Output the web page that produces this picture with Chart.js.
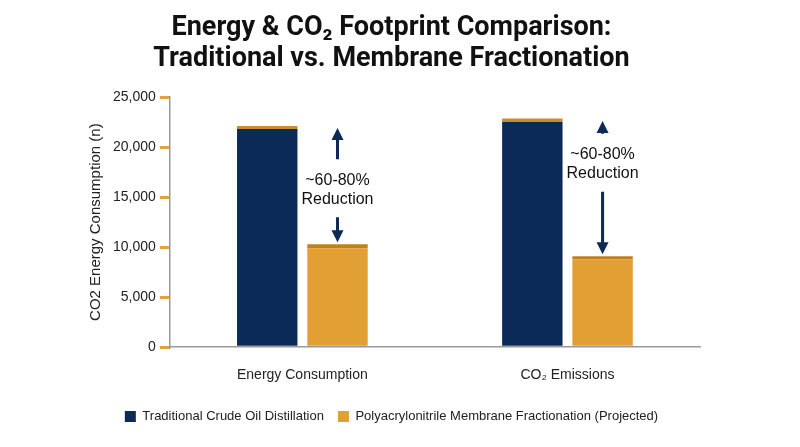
<!DOCTYPE html>
<html><head><meta charset="utf-8">
<script src="https://cdn.jsdelivr.net/npm/chart.js"></script>
<style>body{margin:0;background:#fff}#w{width:800px;height:447px}</style>
</head><body><div id="w"><canvas id="c"></canvas></div>
<script>
const categories = ["Energy Consumption", "CO₂ Emissions"];
const traditionalBody = [21800, 22500];
const traditionalCap = [300, 350];
const membraneBody = [9900, 8800];
const membraneCap = [400, 300];
const arrowTop = [21900, 22600];
const arrowLabel = ["~60-80%", "Reduction"];
const yTicks = [0, 5000, 10000, 15000, 20000, 25000];

const arrows = {
  id: 'arrows',
  afterDatasetsDraw(chart) {
    const ctx = chart.ctx, y = chart.scales.y;
    const meta = chart.getDatasetMeta(2);
    categories.forEach((c, i) => {
      const x = meta.data[i].x;
      const top = y.getPixelForValue(arrowTop[i]);
      const bot = y.getPixelForValue(membraneBody[i] + membraneCap[i]) - 2;
      const mid = (top + bot) / 2 + (i === 0 ? 4 : -24);
      ctx.save();
      ctx.strokeStyle = ctx.fillStyle = '#0d2a57';
      ctx.lineWidth = 3;
      ctx.beginPath();
      ctx.moveTo(x, top + 10); ctx.lineTo(x, mid - 30);
      ctx.moveTo(x, mid + 28); ctx.lineTo(x, bot - 10);
      ctx.stroke();
      ctx.beginPath(); ctx.moveTo(x, top); ctx.lineTo(x - 6, top + 12); ctx.lineTo(x + 6, top + 12); ctx.fill();
      ctx.beginPath(); ctx.moveTo(x, bot); ctx.lineTo(x - 6, bot - 12); ctx.lineTo(x + 6, bot - 12); ctx.fill();
      ctx.fillStyle = '#111';
      ctx.font = '16px "Liberation Sans", Arial';
      ctx.textAlign = 'center'; ctx.textBaseline = 'middle';
      ctx.fillText(arrowLabel[0], x, mid - 9);
      ctx.fillText(arrowLabel[1], x, mid + 10);
      ctx.restore();
    });
  }
};

new Chart(document.getElementById('c'), {
  type: 'bar',
  data: {
    labels: categories,
    datasets: [
      {label: 'Traditional Crude Oil Distillation', data: traditionalBody, backgroundColor: '#0b2a57', stack: 't'},
      {label: 'tcap', data: traditionalCap, backgroundColor: '#c98d2c', stack: 't'},
      {label: 'Polyacrylonitrile Membrane Fractionation (Projected)', data: membraneBody, backgroundColor: '#e29f34', stack: 'm'},
      {label: 'mcap', data: membraneCap, backgroundColor: '#c27f1c', stack: 'm'}
    ]
  },
  options: {
    responsive: true, maintainAspectRatio: false, animation: false,
    layout: {padding: {left: 83, right: 100, top: 5, bottom: 14}},
    datasets: {bar: {categoryPercentage: 0.53, barPercentage: 0.86}},
    plugins: {
      title: {display: true, text: ['Energy & CO₂ Footprint Comparison:', 'Traditional vs. Membrane Fractionation'],
        color: '#111', font: {family: 'Roboto', size: 27, weight: 'bold', lineHeight: 1.15}, padding: {top: 8, bottom: 22}},
      legend: {position: 'bottom', labels: {filter: it => !it.text.endsWith('cap'), boxWidth: 11, boxHeight: 11,
        color: '#222', padding: 14, font: {family: '"Liberation Sans", Arial', size: 13}}},
      tooltip: {enabled: false}
    },
    scales: {
      x: {stacked: true, grid: {display: false}, border: {color: '#999', width: 1.5},
        ticks: {color: '#222', padding: 12, font: {family: '"Liberation Sans", Arial', size: 14}}},
      y: {stacked: true, min: 0, max: 25000, afterBuildTicks: a => { a.ticks = yTicks.map(v => ({value: v})); },
        grid: {drawOnChartArea: false, color: '#e0a23a', lineWidth: 3, tickLength: 10},
        border: {color: '#999', width: 1.5},
        title: {display: true, text: 'CO2 Energy Consumption (n)', color: '#222', font: {family: '"Liberation Sans", Arial', size: 15}},
        ticks: {color: '#222', padding: 4, font: {family: '"Liberation Sans", Arial', size: 14}, callback: v => v.toLocaleString('en-US')}}
    }
  },
  plugins: [arrows]
});
</script></body></html>
